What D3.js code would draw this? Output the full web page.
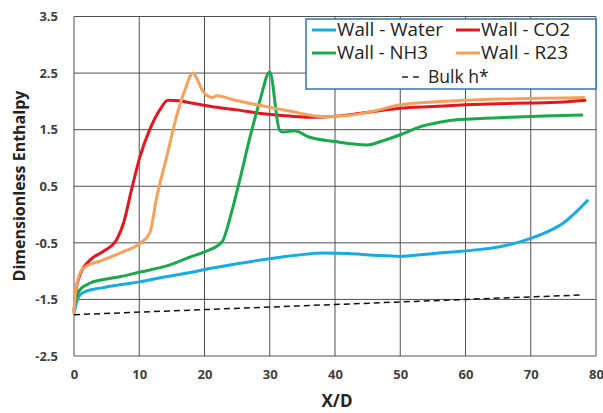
<!DOCTYPE html>
<html>
<head>
<meta charset="utf-8">
<script src="https://cdn.jsdelivr.net/npm/d3@7"></script>
<style>
  body { margin: 0; background: #fff; }
  svg text { font-family: 'Open Sans', 'Noto Sans', sans-serif; }
</style>
</head>
<body>
<div id="chart"></div>
<script>
// series data: [X/D, h*]
const water = [[0,-1.75],[0.4,-1.55],[0.9,-1.42],[2,-1.35],[4,-1.30],[7,-1.24],[10,-1.19],[14,-1.10],[18,-1.02],[21,-0.95],[25,-0.87],[30,-0.78],[34,-0.72],[38,-0.68],[42,-0.69],[46,-0.72],[50,-0.74],[54,-0.70],[58,-0.66],[62,-0.62],[66,-0.55],[70,-0.42],[73,-0.28],[75,-0.15],[77,0.05],[78.8,0.26]];
const co2 = [[0,-1.7],[0.3,-1.35],[0.9,-1.07],[2.5,-0.80],[4.5,-0.65],[6.5,-0.45],[7.6,-0.15],[8.8,0.43],[10.1,1.02],[11.6,1.5],[13.2,1.86],[14.4,2.02],[16.2,2.01],[18,1.97],[21,1.91],[25,1.85],[29,1.78],[33,1.74],[36,1.72],[39,1.73],[44,1.79],[50,1.88],[55,1.91],[60,1.94],[65,1.96],[70,1.97],[75,1.99],[78.5,2.02]];
const nh3 = [[0,-1.72],[0.3,-1.50],[0.9,-1.33],[2.5,-1.21],[5,-1.14],[7,-1.10],[10,-1.02],[14.7,-0.89],[17.8,-0.75],[20,-0.66],[22.7,-0.48],[24.1,0.02],[25.4,0.61],[27,1.38],[28.5,2.02],[30,2.52],[31.5,1.49],[32,1.46],[33.8,1.48],[36,1.37],[40,1.29],[45,1.23],[47,1.29],[50,1.41],[53,1.55],[56,1.63],[59,1.68],[63,1.70],[67,1.72],[72,1.74],[78,1.76]];
const r23 = [[0,-1.75],[0.3,-1.30],[1.4,-0.95],[4.5,-0.80],[7.5,-0.66],[10.1,-0.51],[11.6,-0.33],[12.7,0.32],[14.2,1.02],[15.7,1.73],[17,2.2],[18.2,2.5],[19.8,2.17],[20.3,2.11],[21.3,2.07],[21.8,2.1],[25,2.01],[28,1.94],[33,1.83],[36,1.76],[38.5,1.73],[42,1.75],[46,1.83],[50,1.94],[55,1.99],[60,2.02],[65,2.04],[70,2.05],[75,2.06],[78.3,2.07]];
const bulk = [[0,-1.77],[20,-1.68],[40,-1.59],[60,-1.50],[78,-1.42]];

const xTicks = [0, 10, 20, 30, 40, 50, 60, 70, 80];
const yTicks = [-2.5, -1.5, -0.5, 0.5, 1.5, 2.5, 3.5];

const series = [
  { name: 'Wall - Water', data: water, color: '#17abe6' },
  { name: 'Wall - CO2', data: co2, color: '#e6161e' },
  { name: 'Wall - NH3', data: nh3, color: '#1aa84c' },
  { name: 'Wall - R23', data: r23, color: '#f5a15c' }
];

const w = 603, h = 413;
const mLeft = 74, mRight = 596, mTop = 16.5, mBottom = 356;

const svg = d3.select('#chart').append('svg')
  .attr('width', w).attr('height', h);

const x = d3.scaleLinear().domain([0, 80]).range([mLeft, mRight]);
const y = d3.scaleLinear().domain([-2.5, 3.5]).range([mBottom, mTop]);

// grid
svg.append('g')
  .selectAll('line')
  .data(xTicks)
  .enter().append('line')
  .attr('x1', d => x(d)).attr('x2', d => x(d))
  .attr('y1', mTop).attr('y2', mBottom)
  .attr('stroke', '#505050').attr('stroke-width', 1);

svg.append('g')
  .selectAll('line')
  .data(yTicks)
  .enter().append('line')
  .attr('x1', mLeft).attr('x2', mRight)
  .attr('y1', d => y(d)).attr('y2', d => y(d))
  .attr('stroke', '#505050').attr('stroke-width', 1);

// axes (labels only), plain hyphen for negatives like the original
const xAxis = d3.axisBottom(x).tickValues(xTicks).tickSize(0).tickPadding(14).tickFormat(d => String(d));
const yAxis = d3.axisLeft(y).tickValues(yTicks).tickSize(0).tickPadding(16).tickFormat(d => d.toFixed(1));

svg.append('g')
  .attr('transform', 'translate(0,' + mBottom + ')')
  .call(xAxis)
  .call(g => g.select('.domain').remove())
  .selectAll('text')
  .attr('font-size', 13).attr('font-weight', 'bold').attr('fill', '#404040')
  .attr('font-family', "'Open Sans', sans-serif");

svg.append('g')
  .attr('transform', 'translate(' + mLeft + ',0)')
  .call(yAxis)
  .call(g => g.select('.domain').remove())
  .selectAll('text')
  .attr('font-size', 13).attr('font-weight', 'bold').attr('fill', '#404040')
  .attr('font-family', "'Open Sans', sans-serif");

// titles
svg.append('text')
  .attr('x', 337).attr('y', 407)
  .attr('text-anchor', 'middle')
  .attr('font-size', 17).attr('font-weight', 'bold').attr('fill', '#222')
  .text('X/D');

svg.append('text')
  .attr('transform', 'translate(25,186) rotate(-90)')
  .attr('text-anchor', 'middle')
  .attr('font-size', 16).attr('font-weight', 'bold').attr('fill', '#222')
  .text('Dimensionless Enthalpy');

// lines
const line = d3.line()
  .x(d => x(d[0]))
  .y(d => y(d[1]))
  .curve(d3.curveMonotoneX);

svg.append('path')
  .datum(bulk)
  .attr('d', d3.line().x(d => x(d[0])).y(d => y(d[1])))
  .attr('fill', 'none')
  .attr('stroke', '#111')
  .attr('stroke-width', 1.5)
  .attr('stroke-dasharray', '6,4');

svg.selectAll('path.series')
  .data(series)
  .enter().append('path')
  .attr('class', 'series')
  .attr('d', d => line(d.data))
  .attr('fill', 'none')
  .attr('stroke', d => d.color)
  .attr('stroke-width', 3)
  .attr('stroke-linejoin', 'round');

// legend
const legend = svg.append('g');
legend.append('rect')
  .attr('x', 306).attr('y', 19)
  .attr('width', 290).attr('height', 70)
  .attr('fill', '#fff')
  .attr('stroke', '#2e75b6').attr('stroke-width', 1.5);

const legendPos = [[312, 30], [456, 30], [312, 53], [456, 53]];
series.forEach((s, i) => {
  const p = legendPos[i];
  legend.append('line')
    .attr('x1', p[0]).attr('x2', p[0] + 24)
    .attr('y1', p[1]).attr('y2', p[1])
    .attr('stroke', s.color).attr('stroke-width', 3);
  legend.append('text')
    .attr('x', p[0] + 25).attr('y', p[1] + 6)
    .attr('font-size', 17.5).attr('fill', '#222')
    .attr('textLength', i % 2 === 0 ? (i === 0 ? 106 : 91) : (i === 1 ? 89 : 87))
    .attr('lengthAdjust', 'spacingAndGlyphs')
    .text(s.name);
});

legend.append('line')
  .attr('x1', 402).attr('x2', 423)
  .attr('y1', 77).attr('y2', 77)
  .attr('stroke', '#222').attr('stroke-width', 1.5)
  .attr('stroke-dasharray', '6,5');
legend.append('text')
  .attr('x', 428).attr('y', 83)
  .attr('font-size', 17.5).attr('fill', '#222')
  .text('Bulk h*');
</script>
</body>
</html>
